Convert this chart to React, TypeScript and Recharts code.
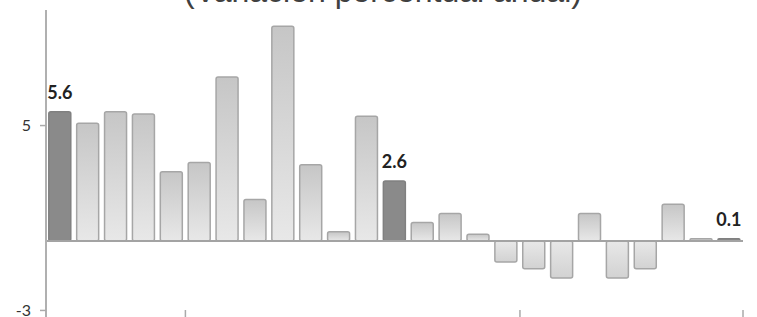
import { BarChart, Bar, XAxis, YAxis, Cell, LabelList, ReferenceLine } from 'recharts';

const months = [
  'ago-22', 'sep-22', 'oct-22', 'nov-22', 'dic-22',
  'ene-23', 'feb-23', 'mar-23', 'abr-23', 'may-23', 'jun-23',
  'jul-23', 'ago-23', 'sep-23', 'oct-23', 'nov-23', 'dic-23',
  'ene-24', 'feb-24', 'mar-24', 'abr-24', 'may-24', 'jun-24',
  'jul-24', 'ago-24',
];

const values = [
  5.6, 5.1, 5.6, 5.5, 3.0,
  3.4, 7.1, 1.8, 9.3, 3.3, 0.4,
  5.4, 2.6, 0.8, 1.2, 0.3, -0.9,
  -1.2, -1.6, 1.2, -1.6, -1.2, 1.6,
  0.1, 0.1,
];

const yTicks = [-3, 5];

const FONT = 'Lato, "DejaVu Sans", sans-serif';

const data = months.map((m, i) => ({
  month: m,
  value: values[i],
  highlight: m.startsWith('ago'),
  // a year divider closes december and the last month shown
  yearEnd: m.startsWith('dic') || i === months.length - 1,
}));

function ValueLabel(props: any) {
  const { x, y, width, index, value } = props;
  if (!data[index].highlight) return null;
  return (
    <text
      x={x + width / 2}
      y={y - 13}
      textAnchor="middle"
      fontFamily={FONT}
      fontWeight={700}
      fontSize={18}
      fill="#222"
    >
      {value.toFixed(1)}
    </text>
  );
}

// year labels sit below the visible area, only the divider marks show
function YearTick(props: any) {
  const { x, y, payload } = props;
  const d = data.find((r) => r.month === payload.value);
  if (!d || !d.yearEnd) return <g />;
  const edge = x + (payload.offset ?? 0);
  return <line x1={edge} x2={edge} y1={y} y2={y - 12} stroke="#aaa" strokeWidth={1.5} />;
}

export default function App() {
  return (
    <div
      style={{
        position: 'absolute',
        top: 0,
        left: 0,
        width: 757,
        height: 317,
        overflow: 'hidden',
        background: '#fff',
      }}
    >
      <div
        style={{
          position: 'absolute',
          top: -25,
          left: 0,
          width: 766,
          textAlign: 'center',
          fontFamily: '"Liberation Sans", Arial, sans-serif',
          fontSize: 32,
          lineHeight: '32px',
          color: '#404040',
          whiteSpace: 'nowrap',
        }}
      >
        (Variación porcentual anual)
      </div>

      <BarChart
        width={757}
        height={342}
        data={data}
        margin={{ top: 10, right: 14, bottom: 0, left: 0 }}
        barCategoryGap="10%"
      >
        <defs>
          <linearGradient id="barUp" x1="0" y1="0" x2="0" y2="1">
            <stop offset="0%" stopColor="#c6c6c6" />
            <stop offset="100%" stopColor="#e8e8e8" />
          </linearGradient>
          <linearGradient id="barDown" x1="0" y1="0" x2="0" y2="1">
            <stop offset="0%" stopColor="#e8e8e8" />
            <stop offset="100%" stopColor="#d2d2d2" />
          </linearGradient>
        </defs>

        <XAxis
          dataKey="month"
          height={20}
          interval={0}
          tickSize={0}
          tickMargin={0}
          axisLine={false}
          tickLine={false}
          tick={YearTick}
        />
        <YAxis
          width={46}
          domain={[-3.5, 10]}
          allowDataOverflow
          ticks={yTicks}
          interval={0}
          tickSize={6}
          tickMargin={9}
          axisLine={{ stroke: '#b0b0b0', strokeWidth: 2 }}
          tickLine={{ stroke: '#aaa', strokeWidth: 1.5 }}
          tick={{ fontFamily: FONT, fontSize: 16, fill: '#333' }}
        />

        <Bar dataKey="value" isAnimationActive={false} strokeWidth={1.5} radius={2}>
          {data.map((d, i) => (
            <Cell
              key={`cell-${i}`}
              fill={d.highlight ? '#8a8a8a' : d.value < 0 ? 'url(#barDown)' : 'url(#barUp)'}
              stroke={d.highlight ? '#808080' : '#a6a6a6'}
            />
          ))}
          <LabelList dataKey="value" content={ValueLabel} />
        </Bar>

        <ReferenceLine y={0} stroke="#a3a3a3" strokeWidth={2} />
      </BarChart>
    </div>
  );
}
